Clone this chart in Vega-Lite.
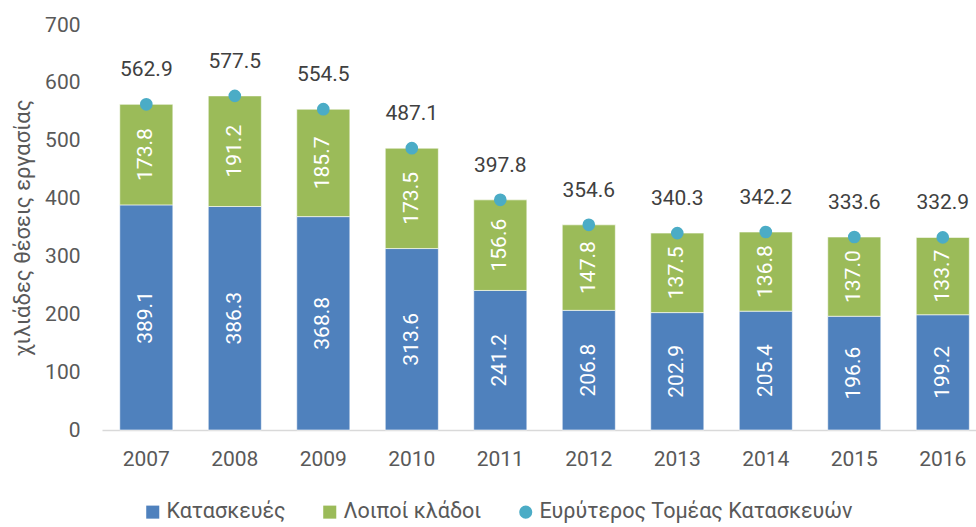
{
  "$schema": "https://vega.github.io/schema/vega-lite/v6.json",
  "autosize": "none",
  "width": 874,
  "height": 405,
  "padding": {"left": 102, "top": 25, "right": 0, "bottom": 97},
  "background": "white",
  "config": {
    "font": "Roboto",
    "view": {"stroke": null},
    "axis": {"labelFont": "Roboto", "titleFont": "Roboto"},
    "legend": {
      "labelFont": "Roboto",
      "orient": "none",
      "legendX": 40,
      "legendY": 476,
      "direction": "horizontal",
      "title": null,
      "labelFontSize": 21.5,
      "labelColor": "#595959",
      "symbolSize": 170,
      "symbolStrokeWidth": 0,
      "columnPadding": 33,
      "labelOffset": 3,
      "labelLimit": 400
    }
  },
  "data": {
    "values": [
      {"year": "2007", "series": "Κατασκευές", "value": 389.1},
      {"year": "2007", "series": "Λοιποί κλάδοι", "value": 173.8},
      {"year": "2007", "series": "Ευρύτερος Τομέας Κατασκευών", "value": 562.9},
      {"year": "2008", "series": "Κατασκευές", "value": 386.3},
      {"year": "2008", "series": "Λοιποί κλάδοι", "value": 191.2},
      {"year": "2008", "series": "Ευρύτερος Τομέας Κατασκευών", "value": 577.5},
      {"year": "2009", "series": "Κατασκευές", "value": 368.8},
      {"year": "2009", "series": "Λοιποί κλάδοι", "value": 185.7},
      {"year": "2009", "series": "Ευρύτερος Τομέας Κατασκευών", "value": 554.5},
      {"year": "2010", "series": "Κατασκευές", "value": 313.6},
      {"year": "2010", "series": "Λοιποί κλάδοι", "value": 173.5},
      {"year": "2010", "series": "Ευρύτερος Τομέας Κατασκευών", "value": 487.1},
      {"year": "2011", "series": "Κατασκευές", "value": 241.2},
      {"year": "2011", "series": "Λοιποί κλάδοι", "value": 156.6},
      {"year": "2011", "series": "Ευρύτερος Τομέας Κατασκευών", "value": 397.8},
      {"year": "2012", "series": "Κατασκευές", "value": 206.8},
      {"year": "2012", "series": "Λοιποί κλάδοι", "value": 147.8},
      {"year": "2012", "series": "Ευρύτερος Τομέας Κατασκευών", "value": 354.6},
      {"year": "2013", "series": "Κατασκευές", "value": 202.9},
      {"year": "2013", "series": "Λοιποί κλάδοι", "value": 137.5},
      {"year": "2013", "series": "Ευρύτερος Τομέας Κατασκευών", "value": 340.3},
      {"year": "2014", "series": "Κατασκευές", "value": 205.4},
      {"year": "2014", "series": "Λοιποί κλάδοι", "value": 136.8},
      {"year": "2014", "series": "Ευρύτερος Τομέας Κατασκευών", "value": 342.2},
      {"year": "2015", "series": "Κατασκευές", "value": 196.6},
      {"year": "2015", "series": "Λοιποί κλάδοι", "value": 137.0},
      {"year": "2015", "series": "Ευρύτερος Τομέας Κατασκευών", "value": 333.6},
      {"year": "2016", "series": "Κατασκευές", "value": 199.2},
      {"year": "2016", "series": "Λοιποί κλάδοι", "value": 133.7},
      {"year": "2016", "series": "Ευρύτερος Τομέας Κατασκευών", "value": 332.9}
    ]
  },
  "encoding": {
    "x": {
      "field": "year",
      "type": "nominal",
      "scale": {"paddingInner": 0.4, "paddingOuter": 0.138, "align": 0.727},
      "axis": {
        "title": null,
        "labelAngle": 0,
        "labelFontSize": 21,
        "labelColor": "#595959",
        "labelPadding": 18,
        "ticks": false,
        "domainColor": "#D9D9D9",
        "domainWidth": 1.5
      }
    }
  },
  "layer": [
    {
      "transform": [{"filter": "datum.series !== 'Ευρύτερος Τομέας Κατασκευών'"}],
      "mark": {"type": "bar", "stroke": "white", "strokeWidth": 0.6},
      "encoding": {
        "y": {
          "field": "value",
          "type": "quantitative",
          "stack": "zero",
          "scale": {"domain": [0, 700]},
          "axis": {
            "title": "χιλιάδες θέσεις εργασίας",
            "titleFontSize": 22,
            "titleFontWeight": "normal",
            "titleColor": "#595959",
            "titlePadding": 10,
            "values": [0, 100, 200, 300, 400, 500, 600, 700],
            "labelFontSize": 21,
            "labelColor": "#595959",
            "labelPadding": 22,
            "grid": false,
            "domain": false,
            "ticks": false
          }
        },
        "color": {
          "field": "series",
          "type": "nominal",
          "scale": {
            "domain": ["Κατασκευές", "Λοιποί κλάδοι", "Ευρύτερος Τομέας Κατασκευών"],
            "range": ["#4F81BD", "#9BBB59", "#4BACC6"]
          }
        },
        "order": {"field": "series", "sort": "ascending"}
      }
    },
    {
      "transform": [
        {"filter": "datum.series !== 'Ευρύτερος Τομέας Κατασκευών'"},
        {"stack": "value", "groupby": ["year"], "sort": [{"field": "series", "order": "ascending"}], "as": ["v0", "v1"]},
        {"calculate": "(datum.v0 + datum.v1) / 2", "as": "mid"}
      ],
      "mark": {"type": "text", "angle": 270, "align": "center", "baseline": "middle", "color": "white", "fontSize": 21},
      "encoding": {
        "y": {"field": "mid", "type": "quantitative"},
        "text": {"field": "value", "type": "quantitative", "format": ".1f"}
      }
    },
    {
      "transform": [{"filter": "datum.series === 'Ευρύτερος Τομέας Κατασκευών'"}],
      "mark": {"type": "point", "filled": true, "opacity": 1, "size": 160},
      "encoding": {
        "y": {"field": "value", "type": "quantitative"},
        "color": {"field": "series", "type": "nominal"},
        "shape": {
          "field": "series",
          "type": "nominal",
          "scale": {
            "domain": ["Κατασκευές", "Λοιποί κλάδοι", "Ευρύτερος Τομέας Κατασκευών"],
            "range": ["square", "square", "circle"]
          }
        }
      }
    },
    {
      "transform": [{"filter": "datum.series === 'Ευρύτερος Τομέας Κατασκευών'"}],
      "mark": {"type": "text", "dy": -34, "fontSize": 21, "color": "#404040", "baseline": "middle"},
      "encoding": {
        "y": {"field": "value", "type": "quantitative"},
        "text": {"field": "value", "type": "quantitative", "format": ".1f"}
      }
    }
  ]
}
